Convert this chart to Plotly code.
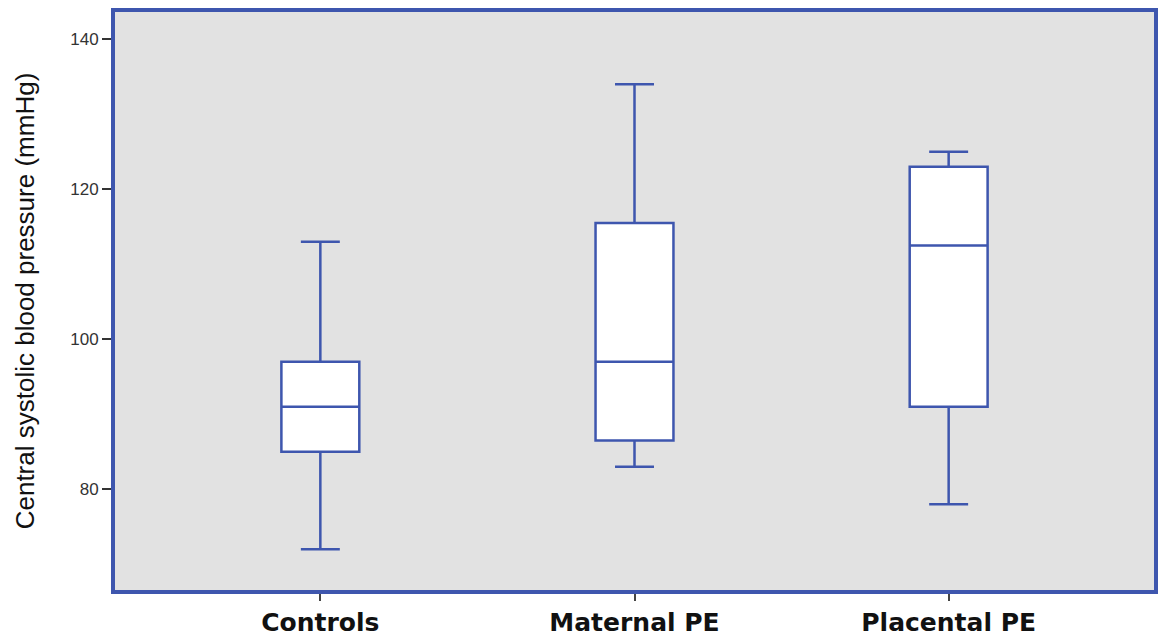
import plotly.graph_objects as go

# Five-number summaries per group (mmHg)
groups = ["Controls", "Maternal PE", "Placental PE"]
lower_whisker = [72, 83, 78]
q1 = [85, 86.5, 91]
median = [91, 97, 112.5]
q3 = [97, 115.5, 123]
upper_whisker = [113, 134, 125]

y_ticks = [80, 100, 120, 140]

BLUE = "#3E56AE"
PANEL = "#E2E2E2"

fig = go.Figure()
fig.add_trace(go.Box(
    x=groups,
    q1=q1,
    median=median,
    q3=q3,
    lowerfence=lower_whisker,
    upperfence=upper_whisker,
    boxpoints=False,
    fillcolor="white",
    line=dict(color=BLUE, width=2.5),
    whiskerwidth=0.5,
    showlegend=False,
    hoverinfo="skip",
))

fig.update_layout(
    width=1164,
    height=637,
    margin=dict(l=113, r=8, t=10, b=45),
    paper_bgcolor="white",
    plot_bgcolor=PANEL,
    boxgap=0.752,
    boxgroupgap=0,
    font=dict(family="Liberation Sans, Arial, sans-serif", color="#111"),
    xaxis=dict(
        type="category",
        range=[-0.66, 2.66],
        automargin=False,
        showgrid=False,
        zeroline=False,
        showline=False,
        ticks="outside",
        ticklen=8,
        tickwidth=1.5,
        tickcolor="#444",
        tickfont=dict(family="DejaVu Sans", size=25, color="#111", weight="bold"),
    ),
    yaxis=dict(
        range=[66.3, 143.9],
        automargin=False,
        tickvals=y_ticks,
        showgrid=False,
        zeroline=False,
        showline=False,
        ticks="outside",
        ticklen=10,
        tickwidth=1.5,
        tickcolor="#333",
        tickfont=dict(size=17, color="#333"),
        title=dict(
            text="Central systolic blood pressure (mmHg)",
            font=dict(size=26, color="#111"),
            standoff=28,
        ),
    ),
    shapes=[dict(
        type="rect", xref="paper", yref="paper",
        x0=0, x1=1, y0=0, y1=1,
        line=dict(color=BLUE, width=4),
        fillcolor="rgba(0,0,0,0)",
        layer="above",
    )],
)

fig.write_html("out.html")
